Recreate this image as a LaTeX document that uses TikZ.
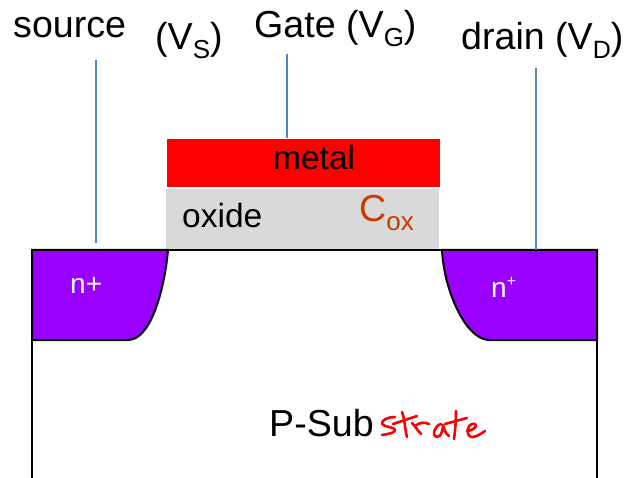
\documentclass[tikz,border=0pt]{standalone}
\usepackage{fontspec}
\setmainfont{Liberation Sans}
\definecolor{accentPurple}{HTML}{9900FF}
\definecolor{accentGrey}{HTML}{D9D9D9}
\definecolor{accentWire}{HTML}{4F88C0}
\definecolor{accentCox}{HTML}{C83C00}
\usetikzlibrary{calc, positioning}
\newcommand{\lowtext}[2]{\raisebox{-0.22em}{\fontsize{#2}{#2}\selectfont #1}}

\begin{document}
\begin{tikzpicture}[
        x=1pt, y=-1pt,
        layer/.style={inner sep=0pt, minimum width=273pt, anchor=north west},
        label38/.style={inner sep=0pt, anchor=base west, font=\fontsize{37.6}{37.6}\selectfont},
        label33/.style={inner sep=0pt, anchor=base west, font=\fontsize{33.5}{33.5}\selectfont},
        welltext/.style={inner sep=0pt, anchor=base west, text=white, font=\fontsize{28}{28}\selectfont},
        wire/.style={accentWire, line width=1.3pt},
        body/.style={black, line width=2pt},
        hand/.style={red, line width=2.6pt, line cap=round, line join=round}
      ]
        \useasboundingbox (0,0) rectangle (626,478);

        % Gate stack
        \node[layer, fill=red, minimum height=48pt] (metal) at (167,139) {};
        \node[layer, fill=accentGrey, minimum height=60pt] (oxide) at (166,189) {};
        \node[label33] (metalText) at (273,170) {metal};
        \node[label33] (oxideText) at (182,228) {oxide};
        \node[label38, text=accentCox] (cox) at (359,222) {C\lowtext{ox}{26}};

        % Source and drain wells
        \draw[body, fill=accentPurple] (32,250) -- (168,250) .. controls (165,285) and (152,340) .. (128,340) -- (32,340) -- cycle;
        \draw[body, fill=accentPurple] (442,250) -- (597,250) -- (597,340) -- (488,340) .. controls (465,338) and (444,290) .. (442,250) -- cycle;
        \node[welltext] (leftWell) at (70,293) {n+};
        \node[welltext] (rightWell) at (491,298) {n\raisebox{0.42em}{\fontsize{16}{16}\selectfont +}};

        % Substrate outline
        \coordinate (subTopLeft) at (32,250);
        \coordinate (subTopRight) at (597,250);
        \coordinate (subBottomLeft) at (32,478);
        \coordinate (subBottomRight) at (597,478);
        \draw[body] (subTopLeft) -- (subTopRight);
        \draw[body] (subTopLeft) -- (subBottomLeft);
        \draw[body] (subTopRight) -- (subBottomRight);

        % Terminal labels
        \node[label38] (source) at (13,38) {source};
        \node[label38] (vs) at (155,50) {(V\lowtext{S}{26})};
        \node[label38] (gate) at (254,38) {Gate (V\lowtext{G}{26})};
        \node[label38] (drain) at (461,50) {drain (V\lowtext{D}{25})};
        \node[label38] (sub) at (269,436) {P-Sub};

        % Terminal wires
        \coordinate (sourceTop) at (96,60);
        \coordinate (sourceEnd) at (96,243);
        \coordinate (gateTop) at (287,54);
        \coordinate (gateEnd) at (287,138);
        \coordinate (drainTop) at (536,68);
        \coordinate (drainEnd) at (536,250);
        \draw[wire] (sourceTop) -- (sourceEnd);
        \draw[wire] (gateTop) -- (gateEnd);
        \draw[wire] (drainTop) -- (drainEnd);

        % Handwritten part of the word
        \draw[hand] (395,417) .. controls (388,417) and (382,420) .. (382,423) .. controls (382,427) and (395,427) .. (395,430) .. controls (395,433) and (388,434) .. (382,435);
        \draw[hand] (393,424) -- (417,416);
        \draw[hand] (402,412) .. controls (405,420) and (405,430) .. (407,437);
        \draw[hand] (412,423) .. controls (415,426) and (418,431) .. (421,434);
        \draw[hand] (415,426) .. controls (420,422) and (425,422) .. (429,424);
        \draw[hand] (441,424) .. controls (435,425) and (431,436) .. (437,437) .. controls (442,437) and (443,428) .. (443,425) .. controls (444,430) and (446,434) .. (449,436);
        \draw[hand] (456,411) .. controls (456,422) and (455,432) .. (454,439);
        \draw[hand] (445,424) -- (467,418);
        \draw[hand] (467,431) .. controls (474,430) and (478,426) .. (475,424) .. controls (471,422) and (466,428) .. (468,434) .. controls (470,440) and (478,436) .. (485,431);
      \end{tikzpicture}
\end{document}
